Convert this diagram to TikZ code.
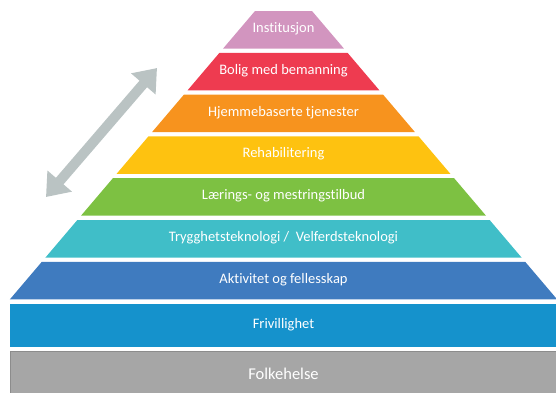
\documentclass[tikz,border=0pt]{standalone}
\usepackage{fontspec}
\setmainfont[Ligatures=CommonOff]{Carlito}
\usepackage{tikz}
\usetikzlibrary{arrows.meta}
\usepackage{xcolor}

\definecolor{instcol}{HTML}{D295BF}
\definecolor{boligcol}{HTML}{EE3B50}
\definecolor{hjemcol}{HTML}{F7931E}
\definecolor{rehabcol}{HTML}{FEC210}
\definecolor{laercol}{HTML}{7DC142}
\definecolor{tryggcol}{HTML}{40BEC8}
\definecolor{aktcol}{HTML}{3F7BBF}
\definecolor{frivcol}{HTML}{1592CC}
\definecolor{folkcol}{HTML}{A6A6A6}
\definecolor{folkline}{HTML}{8C8C8C}
\definecolor{arrowcol}{HTML}{BAC3C3}

\begin{document}
\begin{tikzpicture}[x=1pt, y=-1pt]
        % ================= styles =================
        \tikzset{
            % white label in the middle of a layer
            lbl/.style={text=white, font=\fontsize{14.5}{16}\selectfont, inner sep=0pt},
            % label of the bottom band, a bit larger
            baselbl/.style={lbl, font=\fontsize{16.5}{18}\selectfont},
            % the grey double arrow at the left
            updown/.style={draw=arrowcol, line width=10pt,
                {Triangle[width=31pt,length=21pt]}-{Triangle[width=31pt,length=21pt]}}
        }
        \useasboundingbox (0,0) rectangle (556,392);

        % ================= pyramid =================
        % layer i: top at 11+41.8i, height 37.5, slope 0.85 either side
        \foreach \i/\col/\txt in {0/instcol/Institusjon,
                                  1/boligcol/Bolig med bemanning,
                                  2/hjemcol/Hjemmebaserte tjenester,
                                  3/rehabcol/Rehabilitering,
                                  4/laercol/Lærings- og mestringstilbud,
                                  5/tryggcol/Trygghetsteknologi \slash~ Velferdsteknologi,
                                  6/aktcol/Aktivitet og fellesskap} {
            \pgfmathsetmacro\yt{11+41.8*\i}
            \pgfmathsetmacro\yb{\yt+37.5}
            \pgfmathsetmacro\wt{28.5+0.85*(\yt-11)}
            \pgfmathsetmacro\wb{28.5+0.85*(\yb-11)}
            \fill[\col] (283.5-\wt,\yt) -- (283.5+\wt,\yt)
                -- (283.5+\wb,\yb) -- (283.5-\wb,\yb) -- cycle;
            \node[lbl] (lay\i) at (283.5,{(\yt+\yb)/2-1}) {\txt};
        }

        % Frivillighet: full width band
        \fill[frivcol] (10,304) rectangle (556,347);
        \node[lbl] (friv) at (283.5,324.5) {Frivillighet};

        % Folkehelse: grey base, cut by the lower edge
        \draw[folkline, fill=folkcol, line width=1pt] (10,351) rectangle (557,396);
        \node[baselbl] (folk) at (283.5,374) {Folkehelse};

        % ================= arrow =================
        \coordinate (lo) at (46,197);
        \coordinate (hi) at (157,68);
        \draw[updown] (lo) -- (hi);

    \end{tikzpicture}
\end{document}
